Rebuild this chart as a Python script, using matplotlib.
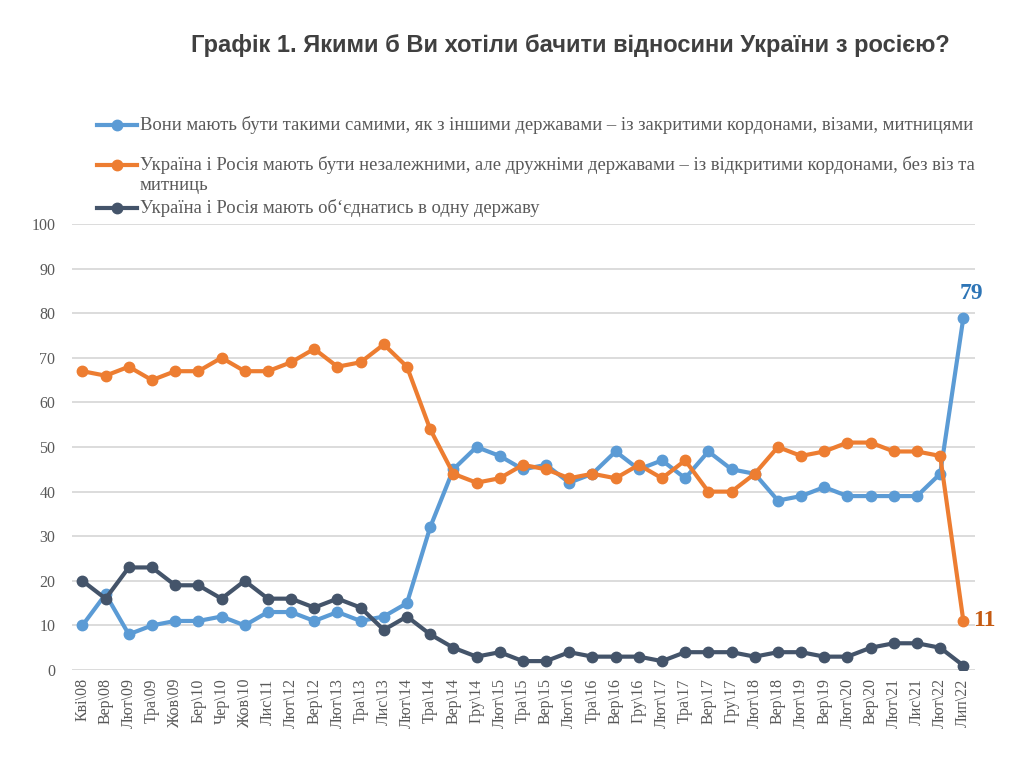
#!/usr/bin/env python3

import matplotlib.pyplot as plt
from matplotlib.lines import Line2D

labels = ["Кві\\08", "Вер\\08", "Лют\\09", "Тра\\09", "Жов\\09", "Бер\\10", "Чер\\10", "Жов\\10",
          "Лис\\11", "Лют\\12", "Вер\\12", "Лют\\13", "Тра\\13", "Лис\\13", "Лют\\14", "Тра\\14",
          "Вер\\14", "Гру\\14", "Лют\\15", "Тра\\15", "Вер\\15", "Лют\\16", "Тра\\16", "Вер\\16",
          "Гру\\16", "Лют\\17", "Тра\\17", "Вер\\17", "Гру\\17", "Лют\\18", "Вер\\18", "Лют\\19",
          "Вер\\19", "Лют\\20", "Вер\\20", "Лют\\21", "Лис\\21", "Лют\\22", "Лип\\22"]

# як з іншими державами
separate = [10, 17, 8, 10, 11, 11, 12, 10, 13, 13, 11, 13, 11, 12, 15, 32, 45, 50, 48, 45,
            46, 42, 44, 49, 45, 47, 43, 49, 45, 44, 38, 39, 41, 39, 39, 39, 39, 44, 79]
# незалежні, але дружні
friendly = [67, 66, 68, 65, 67, 67, 70, 67, 67, 69, 72, 68, 69, 73, 68, 54, 44, 42, 43, 46,
            45, 43, 44, 43, 46, 43, 47, 40, 40, 44, 50, 48, 49, 51, 51, 49, 49, 48, 11]
# одна держава
united = [20, 16, 23, 23, 19, 19, 16, 20, 16, 16, 14, 16, 14, 9, 12, 8, 5, 3, 4, 2,
          2, 4, 3, 3, 3, 2, 4, 4, 4, 3, 4, 4, 3, 3, 5, 6, 6, 5, 1]

series_names = [
    "Вони мають бути такими самими, як з іншими державами – із закритими кордонами, візами, митницями",
    "Україна і Росія мають бути незалежними, але дружніми державами – із відкритими кордонами, без віз та\nмитниць",
    "Україна і Росія мають об‘єднатись в одну державу",
]
colors = ["#5B9BD5", "#ED7D31", "#44546A"]

serif = ["Liberation Serif", "DejaVu Serif"]
grey = "#595959"

fig = plt.figure(figsize=(10.24, 7.64), dpi=100)
ax = fig.add_axes([0.0703, 0.123, 0.8818, 0.5838])

x = list(range(len(labels)))
for vals, c in zip([separate, friendly, united], colors):
    ax.plot(x, vals, color=c, lw=3, marker="o", ms=7.5, zorder=3)

ax.set_xlim(-0.45, len(labels) - 0.5)
ax.set_ylim(0, 100)
ax.set_yticks(range(0, 101, 10))
ax.grid(axis="y", color="#D9D9D9", lw=1.3)
ax.set_axisbelow(True)
for s in ax.spines.values():
    s.set_visible(False)
ax.tick_params(length=0, colors=grey, labelsize=11.5)
ax.tick_params(axis="y", pad=12)
ax.tick_params(axis="x", pad=6)
ax.set_xticks(x)
ax.set_xticklabels(labels, rotation=90, family=serif)
for t in ax.get_yticklabels():
    t.set_family(serif)

ax.annotate(str(separate[-1]), (x[-1], separate[-1]), xytext=(6, 10), textcoords="offset points",
            ha="center", va="bottom", fontsize=17, fontweight="bold", color="#2E75B6", family=serif)
ax.annotate(str(friendly[-1]), (x[-1], friendly[-1]), xytext=(7, 0), textcoords="offset points",
            ha="left", va="center", fontsize=17, fontweight="bold", color="#C55A11", family=serif)

# легенда вручну
leg_y = [125, 165, 208]
for name, c, yy in zip(series_names, colors, leg_y):
    yf = 1 - yy / 764
    fig.add_artist(Line2D([97 / 1024, 137 / 1024], [yf, yf], color=c, lw=3,
                          transform=fig.transFigure))
    fig.add_artist(Line2D([117 / 1024], [yf], color=c, marker="o", ms=7.5,
                          transform=fig.transFigure))
    for i, part in enumerate(name.split("\n")):
        fig.text(140 / 1024, yf - i * 20 / 764, part, va="center", ha="left",
                 fontsize=13.4, color=grey, family=serif)

fig.text(0.557, 0.941, "Графік 1. Якими б Ви хотіли бачити відносини України з росією?",
         ha="center", va="center", fontsize=17, fontweight="bold", color="#404040",
         family=["Liberation Sans", "DejaVu Sans"])

fig.savefig("out.png", dpi=100)
